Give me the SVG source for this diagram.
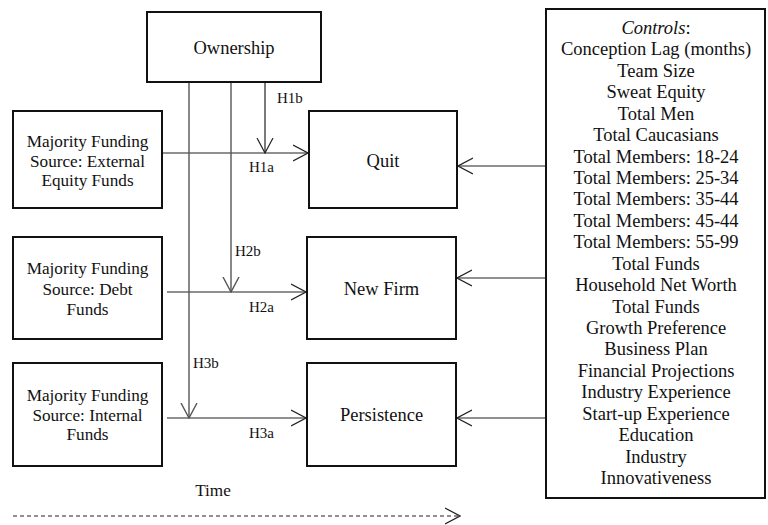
<svg xmlns="http://www.w3.org/2000/svg" width="768" height="525" viewBox="0 0 768 525">
<style>
.box{fill:#fff;stroke:#111;stroke-width:2}
.t{font-family:'Liberation Serif','DejaVu Serif',serif;fill:#111;text-anchor:middle}
.big{font-size:18.5px}
.mid{font-size:17.2px}
.lab{font-family:'Liberation Serif','DejaVu Serif',serif;fill:#111;font-size:15px}
.c{fill:none;stroke:#222;stroke-width:1.2}
.g{fill:none;stroke:#555;stroke-width:1.4}
</style>
<defs>
<marker id="ah" viewBox="0 0 16 18" markerWidth="16" markerHeight="18" refX="15" refY="9" orient="auto" markerUnits="userSpaceOnUse">
<path d="M0,1 L15,9 L0,17" fill="none" stroke="#222" stroke-width="1.2"/>
</marker>
<marker id="ahg" viewBox="0 0 16 18" markerWidth="16" markerHeight="18" refX="15" refY="9" orient="auto" markerUnits="userSpaceOnUse">
<path d="M0,1 L15,9 L0,17" fill="none" stroke="#555" stroke-width="1.4"/>
</marker>
</defs>

<g id="connectors">
<line class="c" x1="162" y1="153" x2="308" y2="153" marker-end="url(#ah)"/>
<line class="c" x1="167" y1="292" x2="306" y2="292" marker-end="url(#ah)"/>
<line class="c" x1="167" y1="418" x2="306" y2="418" marker-end="url(#ah)"/>
<line class="c" x1="265" y1="82" x2="265" y2="153" marker-end="url(#ah)"/>
<line class="g" x1="231" y1="82" x2="231" y2="292" marker-end="url(#ahg)"/>
<line class="g" x1="189" y1="82" x2="189" y2="418" marker-end="url(#ahg)"/>
<line class="c" x1="546" y1="166" x2="458" y2="166" marker-end="url(#ah)"/>
<line class="c" x1="546" y1="278" x2="457" y2="278" marker-end="url(#ah)"/>
<line class="c" x1="546" y1="418" x2="457" y2="418" marker-end="url(#ah)"/>
<line class="c" x1="13" y1="516" x2="460" y2="516" stroke-dasharray="4,3" marker-end="url(#ah)"/>
<text class="lab" x="277" y="103">H1b</text>
<text class="lab" x="249" y="172">H1a</text>
<text class="lab" x="235" y="256">H2b</text>
<text class="lab" x="249" y="312">H2a</text>
<text class="lab" x="193" y="368">H3b</text>
<text class="lab" x="249" y="438">H3a</text>
</g>

<g id="ownership">
<rect class="box" x="147" y="12" width="174" height="70"/>
<text class="t big" x="234" y="54">Ownership</text>
</g>

<g id="external">
<rect class="box" x="13" y="111" width="149" height="97"/>
<text class="t mid" x="87.5" y="147">Majority Funding</text>
<text class="t mid" x="87.5" y="167">Source: External</text>
<text class="t mid" x="87.5" y="186">Equity Funds</text>
</g>

<g id="debt">
<rect class="box" x="13" y="237" width="149" height="102"/>
<text class="t mid" x="87.5" y="274">Majority Funding</text>
<text class="t mid" x="87.5" y="295">Source: Debt</text>
<text class="t mid" x="87.5" y="315">Funds</text>
</g>

<g id="internal">
<rect class="box" x="13" y="363" width="149" height="103"/>
<text class="t mid" x="87.5" y="401">Majority Funding</text>
<text class="t mid" x="87.5" y="421">Source: Internal</text>
<text class="t mid" x="87.5" y="440">Funds</text>
</g>

<g id="quit">
<rect class="box" x="309" y="111" width="148" height="97"/>
<text class="t big" x="383" y="167">Quit</text>
</g>

<g id="newfirm">
<rect class="box" x="307" y="237" width="149" height="102"/>
<text class="t big" x="381.5" y="295">New Firm</text>
</g>

<g id="persistence">
<rect class="box" x="307" y="363" width="149" height="103"/>
<text class="t big" x="381.5" y="421">Persistence</text>
</g>

<g id="controls">
<rect class="box" x="546" y="9" width="219" height="489"/>
<text class="t big" x="656" y="34"><tspan font-style="italic">Controls</tspan>:<tspan x="656" dy="21.43">Conception Lag (months)</tspan><tspan x="656" dy="21.43">Team Size</tspan><tspan x="656" dy="21.43">Sweat Equity</tspan><tspan x="656" dy="21.43">Total Men</tspan><tspan x="656" dy="21.43">Total Caucasians</tspan><tspan x="656" dy="21.43">Total Members: 18-24</tspan><tspan x="656" dy="21.43">Total Members: 25-34</tspan><tspan x="656" dy="21.43">Total Members: 35-44</tspan><tspan x="656" dy="21.43">Total Members: 45-44</tspan><tspan x="656" dy="21.43">Total Members: 55-99</tspan><tspan x="656" dy="21.43">Total Funds</tspan><tspan x="656" dy="21.43">Household Net Worth</tspan><tspan x="656" dy="21.43">Total Funds</tspan><tspan x="656" dy="21.43">Growth Preference</tspan><tspan x="656" dy="21.43">Business Plan</tspan><tspan x="656" dy="21.43">Financial Projections</tspan><tspan x="656" dy="21.43">Industry Experience</tspan><tspan x="656" dy="21.43">Start-up Experience</tspan><tspan x="656" dy="21.43">Education</tspan><tspan x="656" dy="21.43">Industry</tspan><tspan x="656" dy="21.43">Innovativeness</tspan></text>
</g>

<g id="time">
<text class="t mid" x="213" y="496">Time</text>
</g>
</svg>
